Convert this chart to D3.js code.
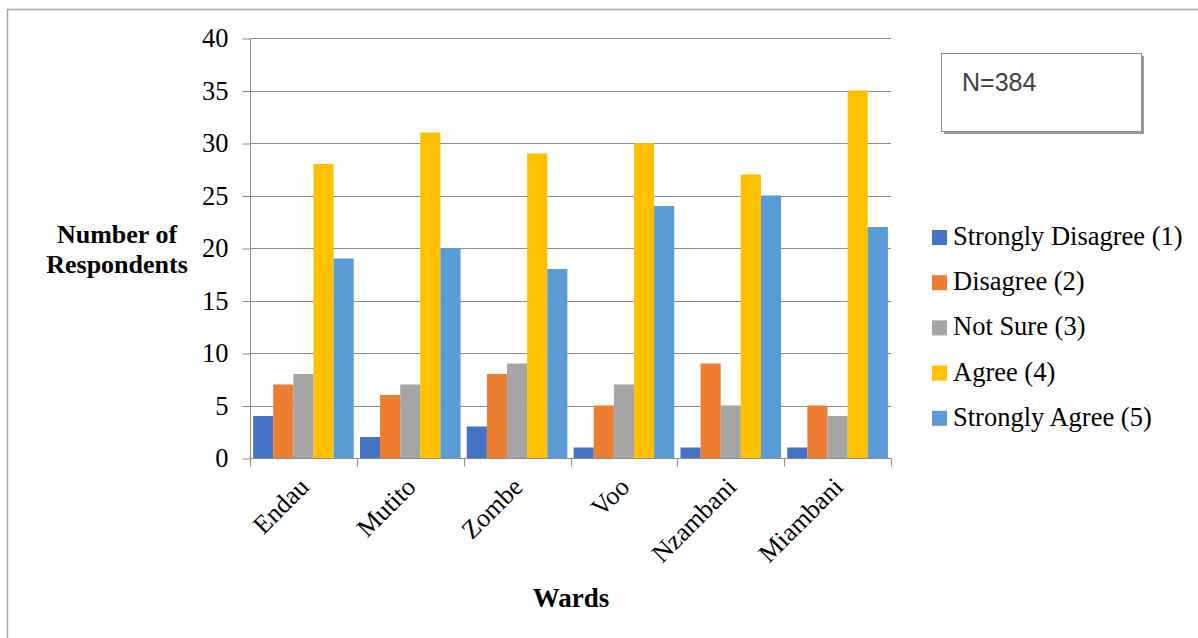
<!DOCTYPE html>
<html>
<head>
<meta charset="utf-8">
<script src="https://cdn.jsdelivr.net/npm/d3@7"></script>
<style>
  html, body { margin: 0; padding: 0; background: #fff; }
  svg { display: block; }
</style>
</head>
<body>
<svg id="chart" width="1198" height="638"></svg>
<script>
// Responses per ward, one array per answer level
const wards = ["Endau", "Mutito", "Zombe", "Voo", "Nzambani", "Miambani"];
const seriesNames = ["Strongly Disagree (1)", "Disagree (2)", "Not Sure (3)", "Agree (4)", "Strongly Agree (5)"];
const stronglyDisagree = [4, 2, 3, 1, 1, 1];
const disagree = [7, 6, 8, 5, 9, 5];
const notSure = [8, 7, 9, 7, 5, 4];
const agree = [28, 31, 29, 30, 27, 35];
const stronglyAgree = [19, 20, 18, 24, 25, 22];
const yTicks = [0, 5, 10, 15, 20, 25, 30, 35, 40];
const seriesColors = ["#4472C4", "#ED7D31", "#A5A5A5", "#FFC000", "#5B9BD5"];
const sampleNote = "N=384";

const seriesValues = [stronglyDisagree, disagree, notSure, agree, stronglyAgree];

const svg = d3.select("#chart");
const serif = "'Liberation Serif', 'Times New Roman', serif";

// Outer frame (only the left and top edges fall inside the view)
svg.append("rect")
  .attr("x", 7.5).attr("y", 9.5)
  .attr("width", 1300).attr("height", 800)
  .attr("fill", "none").attr("stroke", "#a6a6a6").attr("stroke-width", 1.5);

const plot = { left: 250, right: 891, top: 38, bottom: 458 };

const x0 = d3.scaleBand().domain(wards).range([plot.left, plot.right]).paddingInner(0).paddingOuter(0);
const x1 = d3.scaleBand().domain(d3.range(seriesNames.length))
  .range([0, x0.bandwidth()]).paddingInner(0).paddingOuter(0.155);
const y = d3.scaleLinear().domain([0, 40]).range([plot.bottom, plot.top]);

// Horizontal gridlines
svg.append("g")
  .selectAll("line")
  .data(yTicks.filter(t => t > 0))
  .join("line")
  .attr("x1", plot.left).attr("x2", plot.right)
  .attr("y1", d => Math.round(y(d)) + 0.5).attr("y2", d => Math.round(y(d)) + 0.5)
  .attr("stroke", "#8c8c8c").attr("stroke-width", 1);

// Bars
const groups = svg.append("g")
  .selectAll("g")
  .data(wards)
  .join("g")
  .attr("transform", d => `translate(${x0(d)},0)`);

groups.selectAll("rect")
  .data((w, i) => seriesValues.map((vals, s) => ({ s, v: vals[i] })))
  .join("rect")
  .attr("x", d => x1(d.s))
  .attr("width", x1.bandwidth())
  .attr("y", d => y(d.v))
  .attr("height", d => y(0) - y(d.v))
  .attr("fill", d => seriesColors[d.s]);

// Y axis
const yAxis = d3.axisLeft(y).tickValues(yTicks).tickSize(8).tickPadding(14);
const yg = svg.append("g").attr("transform", `translate(${plot.left + 0.5},0.5)`).call(yAxis);
yg.select(".domain").attr("stroke", "#8c8c8c").attr("d", `M-0,${plot.top}V${plot.bottom}`);
yg.selectAll(".tick line").attr("stroke", "#8c8c8c");
yg.selectAll(".tick text")
  .attr("font-family", serif).attr("font-size", 26.5).attr("fill", "#000");

// X axis with category separators
const xg = svg.append("g").attr("transform", `translate(0,${Math.round(plot.bottom) + 0.5})`);
xg.append("line").attr("x1", plot.left).attr("x2", plot.right)
  .attr("stroke", "#8c8c8c");
const sepPositions = wards.map(w => x0(w)).concat([plot.right]);
xg.selectAll(".sep")
  .data(sepPositions)
  .join("line")
  .attr("class", "sep")
  .attr("x1", d => Math.round(d) + 0.5).attr("x2", d => Math.round(d) + 0.5)
  .attr("y1", 0).attr("y2", 8)
  .attr("stroke", "#8c8c8c");

xg.selectAll(".lbl")
  .data(wards)
  .join("text")
  .attr("class", "lbl")
  .attr("transform", d => `translate(${x0(d) + x0.bandwidth() / 2 + 7},${30}) rotate(-45)`)
  .attr("text-anchor", "end")
  .attr("font-family", serif).attr("font-size", 26).attr("fill", "#000")
  .text(d => d);

// Axis titles
svg.append("text")
  .attr("x", 571).attr("y", 607)
  .attr("text-anchor", "middle")
  .attr("font-family", serif).attr("font-size", 27).attr("font-weight", "bold")
  .text("Wards");

const yTitle = svg.append("text")
  .attr("text-anchor", "middle")
  .attr("font-family", serif).attr("font-size", 26).attr("font-weight", "bold");
yTitle.append("tspan").attr("x", 117).attr("y", 243).text("Number of");
yTitle.append("tspan").attr("x", 117).attr("y", 273).text("Respondents");

// Legend
const legend = svg.append("g");
const legendItems = legend.selectAll("g")
  .data(seriesNames)
  .join("g")
  .attr("transform", (d, i) => `translate(932,${237.5 + i * 45.2})`);
legendItems.append("rect")
  .attr("x", 0).attr("y", -7.5).attr("width", 15).attr("height", 15)
  .attr("fill", (d, i) => seriesColors[i]);
legendItems.append("text")
  .attr("x", 21).attr("y", 7.5)
  .attr("font-family", serif).attr("font-size", 26.5).attr("fill", "#000")
  .text(d => d);

// Sample size note box with a soft drop shadow
const noteBox = svg.append("g");
noteBox.append("rect")
  .attr("x", 944).attr("y", 56).attr("width", 200).attr("height", 78)
  .attr("fill", "#9a9a9a");
noteBox.append("rect")
  .attr("x", 941.5).attr("y", 53.5).attr("width", 200).attr("height", 78)
  .attr("fill", "#fff").attr("stroke", "#8c8c8c").attr("stroke-width", 1);
noteBox.append("text")
  .attr("x", 962).attr("y", 91)
  .attr("font-family", "'Liberation Sans', Arial, sans-serif").attr("font-size", 25)
  .attr("fill", "#404040")
  .text(sampleNote);
</script>
</body>
</html>
